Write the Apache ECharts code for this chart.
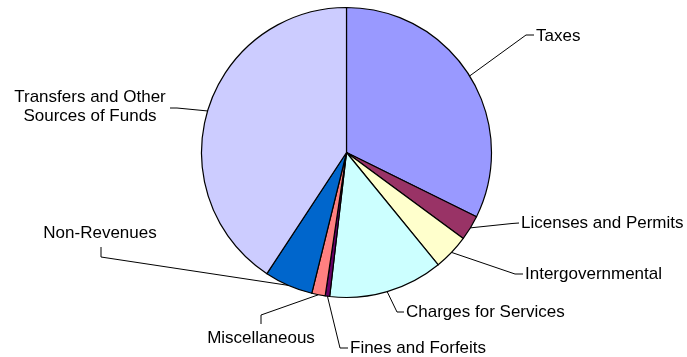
<!DOCTYPE html>
<html>
<head>
<meta charset="utf-8">
<script src="https://cdn.jsdelivr.net/npm/echarts@6/dist/echarts.min.js"></script>
<style>
  html, body { margin: 0; padding: 0; background: #fff; }
  #chart { width: 687px; height: 357px; }
</style>
</head>
<body>
<div id="chart"></div>
<script>
// Sources of funds, share of total (%)
const categories = [
  'Taxes',
  'Licenses and Permits',
  'Intergovernmental',
  'Charges for Services',
  'Fines and Forfeits',
  'Miscellaneous',
  'Non-Revenues',
  'Transfers and Other\nSources of Funds'
];
const shares = [32.3, 2.8, 4.0, 12.75, 0.5, 1.5, 5.4, 40.75];
const sliceColors = ['#9999FF', '#993366', '#FFFFCC', '#CCFFFF', '#660066', '#FF8080', '#0066CC', '#CCCCFF'];

// Label placement: text anchor, alignment, and the bend/end of each leader line
const labelAnchor = [
  { x: 536, y: 36,  align: 'left',   bend: [526, 35],  end: [534, 35] },
  { x: 521, y: 223, align: 'left',   bend: [512, 223.5], end: [519, 223] },
  { x: 525, y: 274, align: 'left',   bend: [515, 274], end: [523, 274] },
  { x: 406, y: 312, align: 'left',   bend: [397, 312], end: [404, 312] },
  { x: 350, y: 348, align: 'left',   bend: [340, 348], end: [348, 348] },
  { x: 261, y: 338, align: 'center', bend: [261, 315], end: [261, 324] },
  { x: 100, y: 233, align: 'center', bend: [101, 257], end: [101, 247] },
  { x: 90,  y: 107, align: 'center', bend: [177, 108], end: [170, 108] }
];

const chart = echarts.init(document.getElementById('chart'), null, { renderer: 'canvas' });

chart.setOption({
  animation: false,
  backgroundColor: '#ffffff',
  series: [{
    type: 'pie',
    center: [346.5, 152.5],
    radius: 145,
    startAngle: 90,
    clockwise: true,
    avoidLabelOverlap: false,
    data: categories.map((name, i) => ({
      name: name,
      value: shares[i],
      itemStyle: { color: sliceColors[i] }
    })),
    itemStyle: { borderColor: '#000000', borderWidth: 1.2 },
    label: {
      show: true,
      position: 'outside',
      formatter: '{b}',
      color: '#000000',
      fontFamily: '"Liberation Sans", Arial, sans-serif',
      fontSize: 17,
      lineHeight: 19
    },
    labelLine: {
      show: true,
      length: 20,
      length2: 10,
      smooth: false,
      lineStyle: { color: '#000000', width: 1 }
    },
    emphasis: { disabled: true },
    labelLayout: function (params) {
      const a = labelAnchor[params.dataIndex];
      const start = params.labelLinePoints ? params.labelLinePoints[0] : a.bend;
      return {
        x: a.x,
        y: a.y,
        align: a.align,
        verticalAlign: 'middle',
        labelLinePoints: [start, a.bend, a.end]
      };
    }
  }]
});
</script>
</body>
</html>
